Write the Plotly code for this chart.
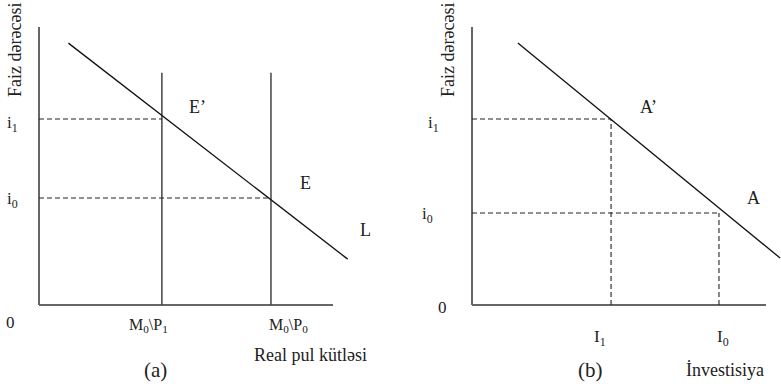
import plotly.graph_objects as go

W, H = 781, 384
FONT = "Liberation Serif"
INK = "#222222"

# ── Panel (a): money market ──────────────────────────────────────────────────
a_axis_end = 10.0
a_L_x = [1.0, 10.5]
a_L_y = [9.42, 1.65]
a_supply_x = [4.18, 7.89]          # M0\P1, M0\P0
a_supply_top = 8.35
a_rates = [6.69, 3.85]             # i1, i0
a_rate_labels = ["i<sub>1</sub>", "i<sub>0</sub>"]
a_supply_labels = ["M<sub>0</sub>\\P<sub>1</sub>", "M<sub>0</sub>\\P<sub>0</sub>"]

# ── Panel (b): investment ───────────────────────────────────────────────────
b_axis_end = 10.0
b_I_x = [1.56, 10.48]
b_I_y = [9.42, 1.69]
b_invest = [4.73, 8.40]            # I1, I0
b_rates = [6.69, 3.31]             # i1, i0
b_rate_labels = ["i<sub>1</sub>", "i<sub>0</sub>"]
b_invest_labels = ["I<sub>1</sub>", "I<sub>0</sub>"]

KX, KY = 29.4, 27.8                # pixels per data unit
Y0 = 305                           # pixel row of the origin


def px(x, y):
    return x / W, 1 - y / H


def axes_for(origin_x, left, right, top=20, bottom=310):
    xr = [(left - origin_x) / KX, (right - origin_x) / KX]
    yr = [(Y0 - bottom) / KY, (Y0 - top) / KY]
    common = dict(visible=False, showgrid=False, zeroline=False, fixedrange=True)
    xa = dict(domain=[left / W, right / W], range=xr, **common)
    ya = dict(domain=[1 - bottom / H, 1 - top / H], range=yr, **common)
    return xa, ya


fig = go.Figure()


def line(x, y, xa, ya, color=INK, width=1.3, dash="solid"):
    fig.add_trace(go.Scatter(
        x=x, y=y, mode="lines", xaxis=xa, yaxis=ya, hoverinfo="skip",
        line=dict(color=color, width=width, dash=dash), showlegend=False,
    ))


DASH = "5px,3px"

# panel (a)
line([0, 0], [0, 10.0], "x", "y", color="#666666", width=2)
line([0, a_axis_end], [0, 0], "x", "y", color="#666666", width=2)
for sx in a_supply_x:
    line([sx, sx], [0, a_supply_top], "x", "y", color="#444444", width=1.5)
for xv, r in zip(a_supply_x, a_rates):
    line([0, xv], [r, r], "x", "y", width=1.1, dash=DASH)
line(a_L_x, a_L_y, "x", "y", color="#111111", width=1.3)

# panel (b)
line([0, 0], [0, 10.0], "x2", "y2", color="#666666", width=2)
line([0, b_axis_end], [0, 0], "x2", "y2", color="#666666", width=2)
for xv, r in zip(b_invest, b_rates):
    line([0, xv], [r, r], "x2", "y2", width=1.1, dash=DASH)
    line([xv, xv], [0, r], "x2", "y2", width=1.1, dash=DASH)
line(b_I_x, b_I_y, "x2", "y2", color="#111111", width=1.3)

xa1, ya1 = axes_for(39, 30, 385)
xa2, ya2 = axes_for(472, 465, 781)


def text(t, x, y, size=18, angle=0):
    fx, fy = px(x, y)
    fig.add_annotation(
        text=t, x=fx, y=fy, xref="paper", yref="paper", showarrow=False,
        xanchor="center", yanchor="middle", textangle=angle,
        font=dict(family=FONT, size=size, color=INK),
    )


# labels (a)
text("Faiz dərəcəsi", 15, 50, angle=-90)
text(a_rate_labels[0], 12, 124, size=17)
text(a_rate_labels[1], 12, 200, size=17)
text("0", 10, 322, size=17)
text(a_supply_labels[0], 148, 325, size=16)
text(a_supply_labels[1], 288, 325, size=16)
text("Real pul kütləsi", 310, 355)
text("(a)", 155, 370, size=21)
text("E’", 197, 107)
text("E", 305, 183)
text("L", 365, 230)

# labels (b)
text("Faiz dərəcəsi", 448, 50, angle=-90)
text(b_rate_labels[0], 433, 124, size=17)
text(b_rate_labels[1], 427, 215, size=17)
text("0", 442, 307, size=17)
text(b_invest_labels[0], 600, 338, size=17)
text(b_invest_labels[1], 723, 338, size=17)
text("(b)", 590, 370, size=21)
text("İnvestisiya", 725, 370)
text("A’", 648, 107)
text("A", 753, 198)

fig.update_layout(
    width=W, height=H,
    margin=dict(l=0, r=0, t=0, b=0),
    plot_bgcolor="white", paper_bgcolor="white",
    font=dict(family=FONT, size=18, color=INK),
    xaxis=xa1, yaxis=ya1,
    xaxis2={**xa2, "anchor": "y2"}, yaxis2={**ya2, "anchor": "x2"},
    showlegend=False,
)

fig.write_html(
    "out.html",
    config={"displayModeBar": False},
    post_script="document.body.style.margin='0';",
)
